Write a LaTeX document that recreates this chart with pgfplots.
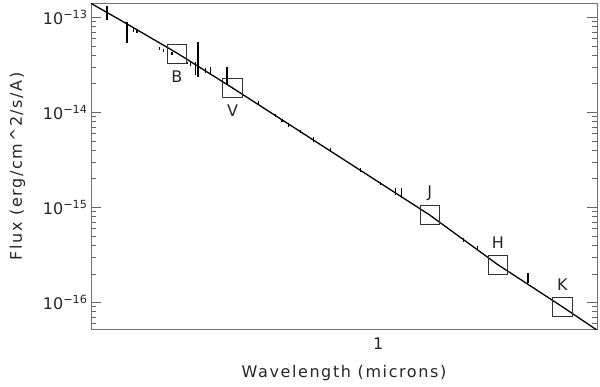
\documentclass[border=0pt]{standalone}
\usepackage{fontspec}
\setmainfont{DejaVu Sans}
\newfontfamily\spaced{DejaVu Sans}[LetterSpace=10]
\usepackage{pgfplots}
\pgfplotsset{compat=1.18}

\begin{document}
\begin{tikzpicture}
\path[use as bounding box] (0,0) rectangle (600pt,387pt);
\begin{axis}[
  at={(91pt,57.7pt)}, anchor=south west,
  width=506pt, height=326pt, scale only axis,
  xmode=log, ymode=log,
  xmin=0.3, xmax=2.5, ymin=5.2e-17, ymax=1.4e-13,
  axis line style={black!55},
  every tick/.style={black!60},
  xtick={1}, xticklabels={1},
  xtick style={draw=none},
  minor xtick={0.3,0.4,0.5,0.6,0.7,0.8,0.9,1,2},
  ytick={1e-16,1e-15,1e-14,1e-13},
  yticklabels={10\textsuperscript{−16},10\textsuperscript{−15},10\textsuperscript{−14},10\textsuperscript{−13}},
  minor ytick={6e-17,7e-17,8e-17,9e-17,
    2e-16,3e-16,4e-16,5e-16,6e-16,7e-16,8e-16,9e-16,
    2e-15,3e-15,4e-15,5e-15,6e-15,7e-15,8e-15,9e-15,
    2e-14,3e-14,4e-14,5e-14,6e-14,7e-14,8e-14,9e-14},
  major tick length=10pt, minor tick length=5pt,
  ticklabel style={font=\fontsize{16}{19}\selectfont, text=black!85},
  xticklabel style={yshift=-5pt},
  xlabel={\spaced Wavelength (microns)},
  ylabel={\spaced Flux (erg/cm\textasciicircum 2/s/A)},
  label style={font=\fontsize{16}{19}\selectfont, text=black!85},
  xlabel style={yshift=-9pt},
  ylabel style={yshift=11pt},
]
% model spectrum
\addplot[black, line width=1.3pt, mark=none] coordinates {
  (0.3,1.40e-13) (0.3488,8.50e-14) (0.430,4.20e-14) (0.543,1.80e-14)
  (1.240,8.30e-16) (1.650,2.49e-16) (2.163,8.97e-17) (2.5,5.10e-17)
};
% error bars of the spectrum
\addplot[black, line width=1.2pt, mark=none, unbounded coords=jump] coordinates {
  (0.3208,1.315e-13) (0.3208,9.37e-14) (0.3208,nan)
  (0.3489,8.99e-14) (0.3489,5.32e-14) (0.3489,nan)
  (0.3587,7.66e-14) (0.3587,7.05e-14) (0.3587,nan)
  (0.3638,7.35e-14) (0.3638,6.79e-14) (0.3638,nan)
  (0.3995,4.83e-14) (0.3995,4.53e-14) (0.3995,nan)
  (0.4068,4.64e-14) (0.4068,4.34e-14) (0.4068,nan)
  (0.4214,4.34e-14) (0.4214,4.01e-14) (0.4214,nan)
  (0.4498,3.41e-14) (0.4498,3.20e-14) (0.4498,nan)
  (0.4549,3.41e-14) (0.4549,3.07e-14) (0.4549,nan)
  (0.4646,3.41e-14) (0.4646,2.47e-14) (0.4646,nan)
  (0.4699,5.54e-14) (0.4699,2.37e-14) (0.4699,nan)
  (0.4845,2.90e-14) (0.4845,2.57e-14) (0.4845,nan)
  (0.4947,3.02e-14) (0.4947,2.53e-14) (0.4947,nan)
  (0.5305,3.02e-14) (0.5305,1.99e-14) (0.5305,nan)
  (0.5431,1.86e-14) (0.5431,1.75e-14) (0.5431,nan)
  (0.6058,1.315e-14) (0.6058,1.22e-14) (0.6058,nan)
  (0.6497,9.60e-15) (0.6497,8.92e-15) (0.6497,nan)
  (0.6682,8.50e-15) (0.6682,7.90e-15) (0.6682,nan)
  (0.6870,7.66e-15) (0.6870,7.05e-15) (0.6870,nan)
  (0.7215,6.51e-15) (0.7215,6.01e-15) (0.7215,nan)
  (0.7629,5.46e-15) (0.7629,4.90e-15) (0.7629,nan)
  (0.8185,4.18e-15) (0.8185,3.85e-15) (0.8185,nan)
  (0.9281,2.57e-15) (0.9281,2.37e-15) (0.9281,nan)
  (1.0093,1.86e-15) (1.0093,1.72e-15) (1.0093,nan)
  (1.0748,1.60e-15) (1.0748,1.35e-15) (1.0748,nan)
  (1.1021,1.60e-15) (1.1021,1.25e-15) (1.1021,nan)
  (1.4312,4.72e-16) (1.4312,4.34e-16) (1.4312,nan)
  (1.5139,3.91e-16) (1.5139,3.55e-16) (1.5139,nan)
  (1.8725,2.02e-16) (1.8725,1.585e-16) (1.8725,nan)
};
% photometric bands, labels below
\addplot[only marks, mark=square, mark size=9.7pt,
  mark options={draw=black!80, line width=0.9pt},
  nodes near coords, point meta=explicit symbolic,
  every node near coord/.style={anchor=center, yshift=-23pt,
    font=\fontsize{16}{19}\selectfont, text=black!85}]
  table[meta=lab] {
x y lab
0.430 4.13e-14 B
0.543 1.80e-14 V
};
% photometric bands, labels above
\addplot[only marks, mark=square, mark size=9.7pt,
  mark options={draw=black!80, line width=0.9pt},
  nodes near coords, point meta=explicit symbolic,
  every node near coord/.style={anchor=center, yshift=22pt,
    font=\fontsize{16}{19}\selectfont, text=black!85}]
  table[meta=lab] {
x y lab
1.240 8.30e-16 J
1.650 2.49e-16 H
2.163 8.97e-17 K
};
\end{axis}
\end{tikzpicture}
\end{document}
